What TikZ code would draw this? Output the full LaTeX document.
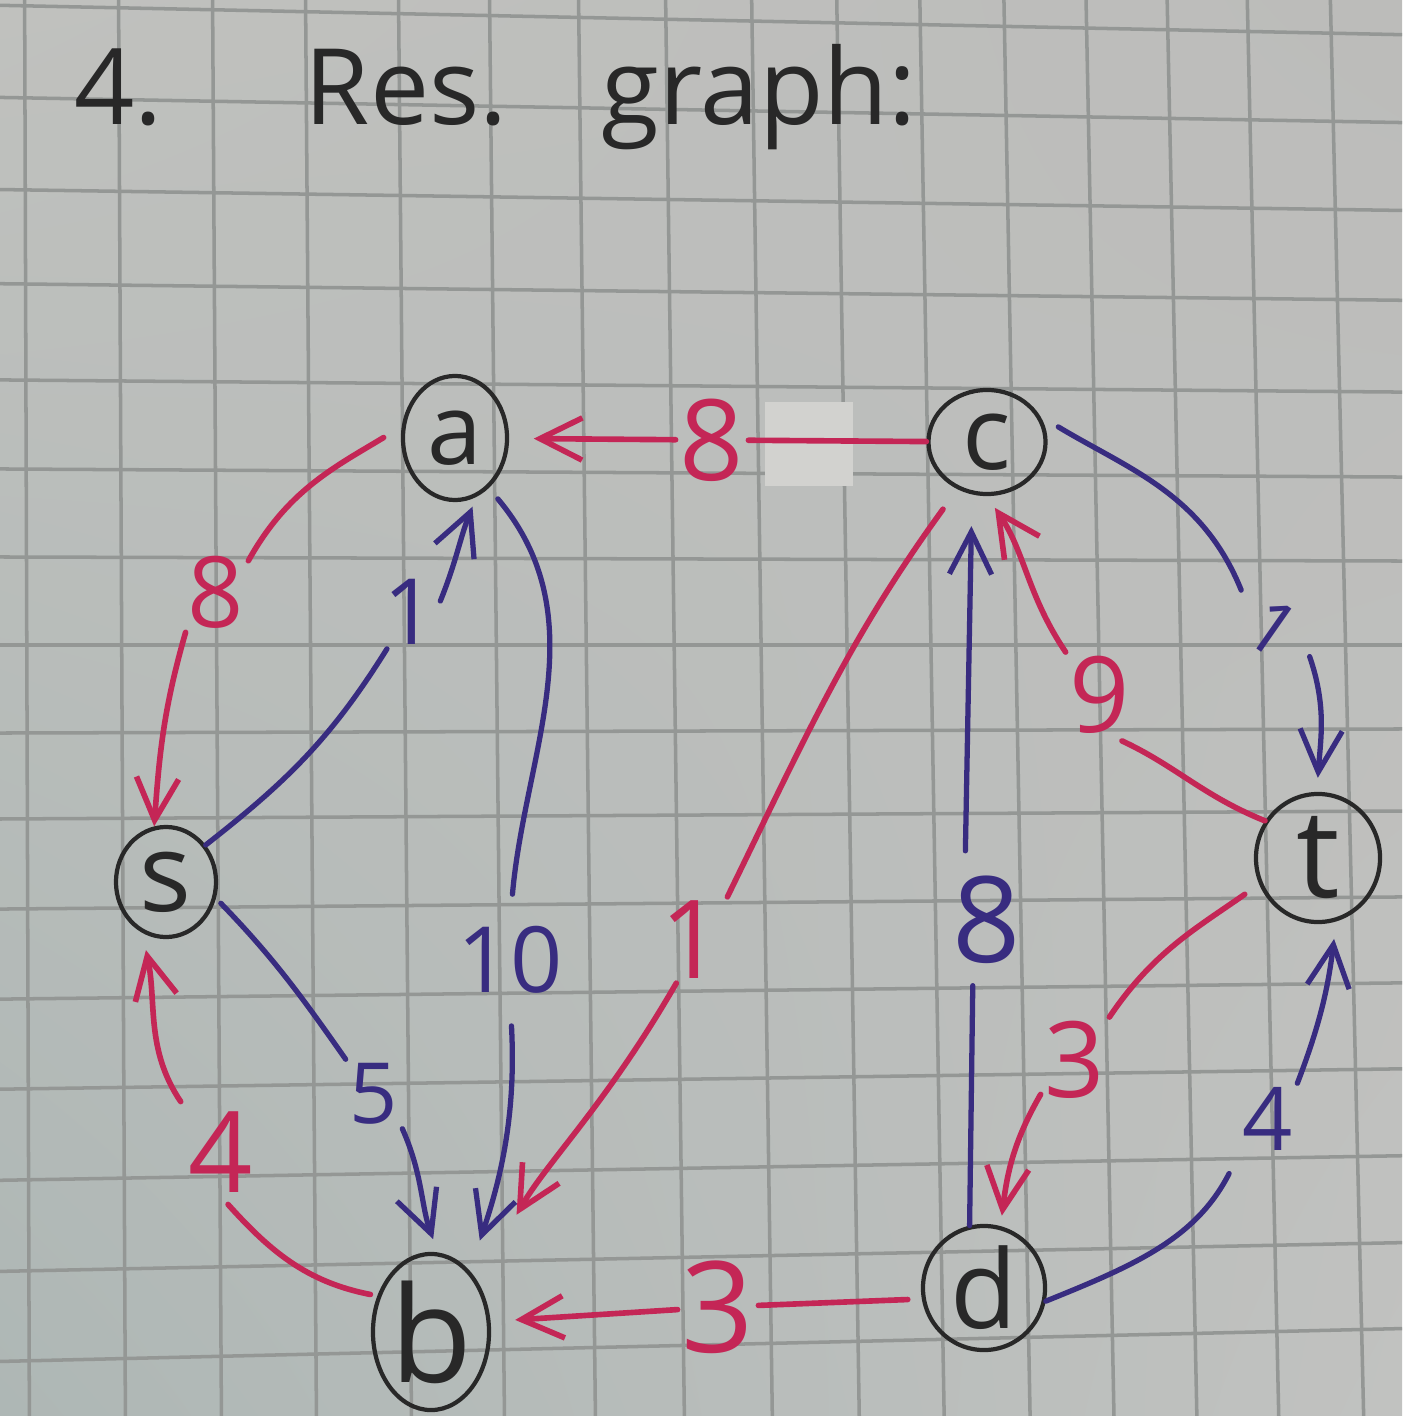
\documentclass[tikz,border=0pt]{standalone}
\usepackage{fontspec}
\usepackage{graphicx}
\setmainfont{Open Sans}
\usetikzlibrary{arrows.meta,shapes.geometric,shadings}
\definecolor{paperUL}{RGB}{192,193,190}
\definecolor{paperUR}{RGB}{188,188,186}
\definecolor{paperLL}{RGB}{174,183,181}
\definecolor{paperLR}{RGB}{193,194,192}
\definecolor{gridink}{RGB}{148,151,149}
\definecolor{tapecol}{RGB}{210,210,207}
\definecolor{redink}{RGB}{196,38,86}
\definecolor{blueink}{RGB}{56,44,128}
\definecolor{penink}{RGB}{40,40,40}
\begin{document}
\begin{tikzpicture}[x=0.01cm,y=0.01cm,
  vtx/.style={ellipse,draw=penink,line width=1.2pt,inner sep=0pt,text=penink},
  lab/.style={inner sep=1pt,font=\fontsize{30}{30}\selectfont},
  redlab/.style={lab,text=redink},
  bluelab/.style={lab,text=blueink},
  redline/.style={draw=redink,line width=1.6pt,line cap=round},
  blueline/.style={draw=blueink,line width=1.5pt,line cap=round},
  arrowend/.style={-{Straight Barb[length=12pt,width=12pt]}},
  gridline/.style={draw=gridink,line width=1pt}
]
% paper
\shade[upper left=paperUL,upper right=paperUR,lower left=paperLL,lower right=paperLR] (0,0) rectangle (1402,-1416);
\useasboundingbox (0,0) rectangle (1402,-1416);
% grid
\foreach \xm in {27,122,217,311,405,497,587,675,762,848,932,1017,1100,1182,1263,1347} {
  \pgfmathsetmacro{\slp}{0.006+0.000012*(\xm-200)}
  \pgfmathsetmacro{\xtp}{\xm-\slp*708}
  \pgfmathsetmacro{\xbt}{\xm+\slp*708}
  \draw[gridline] (\xtp,0) -- (\xbt,-1416);
}
\foreach \ym in {20,110,200,292,386,473,559,645,731,815,903,991,1079,1168,1257,1345} {
  \pgfmathsetmacro{\tlt}{-0.047*(\ym-645)}
  \pgfmathsetmacro{\ylf}{\ym-\tlt/2}
  \pgfmathsetmacro{\yrt}{\ym+\tlt/2}
  \draw[gridline] (0,{-\ylf}) -- (1402,{-\yrt});
}
% correction tape patch
\fill[tapecol] (765,-402) rectangle (853,-486);

% title
\node[anchor=base west,text=penink,font=\fontsize{30}{30}\selectfont] (title) at (62,-125) {4.\hspace{1.42cm}Res.\hspace{0.94cm}graph:};

% vertices (letters set in zero-width boxes so the drawn ellipses keep their sizes)
\node[vtx,minimum width=1.04cm,minimum height=1.24cm,font=\fontsize{28}{28}\selectfont] (a) at (455,-438) {\makebox[0pt]{a}};
\node[vtx,minimum width=1.17cm,minimum height=1.04cm,font=\fontsize{29}{29}\selectfont] (c) at (987,-442) {\makebox[0pt]{c}};
\node[vtx,minimum width=1.00cm,minimum height=1.10cm,font=\fontsize{31}{31}\selectfont] (s) at (166,-882) {\makebox[0pt]{s}};
\node[vtx,minimum width=1.24cm,minimum height=1.28cm,font=\fontsize{35}{35}\selectfont] (t) at (1318,-858) {\makebox[0pt]{t}};
\node[vtx,minimum width=1.16cm,minimum height=1.56cm,font=\fontsize{38}{38}\selectfont] (b) at (431,-1332) {\makebox[0pt]{b}};
\node[vtx,minimum width=1.22cm,minimum height=1.24cm,font=\fontsize{31}{31}\selectfont] (d) at (984,-1288) {\makebox[0pt]{d}};

% edge labels
\node[redlab,font=\fontsize{32}{32}\selectfont] (lca) at (712,-440) {8};
\node[redlab,font=\fontsize{28}{28}\selectfont] (las) at (216,-592) {8};
\node[bluelab,font=\fontsize{26}{26}\selectfont] (lsa) at (410,-612) {1};
\node[bluelab,font=\fontsize{26}{26}\selectfont] (lab10) at (510,-960) {10};
\node[bluelab,font=\fontsize{24}{24}\selectfont] (l5) at (374,-1094) {5};
\node[redlab,font=\fontsize{32}{32}\selectfont] (l4r) at (221,-1152) {4};
\node[redlab,font=\fontsize{31}{31}\selectfont] (l1cb) at (692,-940) {1};
\node[bluelab,font=\fontsize{34}{34}\selectfont] (l8dc) at (987,-920) {8};
\node[redlab,font=\fontsize{30}{30}\selectfont] (l9) at (1100,-695) {9};
\node[bluelab,font=\fontsize{21}{21}\selectfont] (l1ct) at (1273,-628) {\rotatebox{-35}{1}};
\node[redlab,font=\fontsize{30}{30}\selectfont] (l3td) at (1075,-1060) {3};
\node[bluelab,font=\fontsize{25}{25}\selectfont] (l4dt) at (1268,-1119) {4};
\node[redlab,font=\fontsize{36}{36}\selectfont] (l3db) at (718,-1307) {3};

% c -> a (8)
\draw[redline] (c) -- (lca);
\draw[redline,arrowend,shorten >=7pt] (lca) -- (a);
% a -> s (8)
\draw[redline,shorten <=6pt] (a.168) to[out=211,in=61] (las.44);
\draw[redline,arrowend] (las.-127) to[out=254,in=86] (s.102);
% s -> a (1)
\draw[blueline] (s.43) to[out=38,in=238] (lsa.238);
\draw[blueline,arrowend,shorten >=3pt] (lsa.20) to[out=68,in=248] (a.-70);
% a -> b (10)
\draw[blueline,shorten <=4pt,shorten >=8pt] (a.-56) to[out=-50,in=85] (lab10.north);
\draw[blueline,arrowend,shorten <=8pt,shorten >=9pt] (lab10.south) to[out=-87,in=71] (b.58);
% s -> b (5)
\draw[blueline,shorten <=2pt] (s.-18) to[out=-46,in=125] (l5.north west);
\draw[blueline,arrowend,shorten >=4pt] (l5.south east) to[out=-66,in=110] (b.85);
% b -> s (4)
\draw[redline,shorten <=2pt,shorten >=3pt] (b.146) to[out=169,in=-48] (l4r.south);
\draw[redline,arrowend,shorten <=2pt,shorten >=5pt] (l4r.north west) to[out=124,in=-78] (s.-115);
% c -> b (1)
\draw[redline,shorten <=7pt] (c.-122) to[out=234,in=64] (l1cb.north east);
\draw[redline,arrowend,shorten >=22pt] (l1cb.-110) to[out=240,in=60] (b.47);
% d -> c (8)
\draw[blueline,shorten >=5pt] (d.103) -- ([xshift=-0.14cm]l8dc.south);
\draw[blueline,arrowend,shorten <=6pt,shorten >=9pt] ([xshift=-0.22cm]l8dc.north) -- (c.-106);
% t -> c (9)
\draw[redline,shorten >=2pt] (t.145) to[out=158,in=-25] (l9.-70);
\draw[redline,arrowend,shorten >=4pt] (l9.north west) to[out=124,in=-56] (c.-90);
% c -> t (1)
\draw[blueline,shorten <=6pt] (c.26) to[out=-31,in=112] (l1ct.130);
\draw[blueline,arrowend,shorten >=4pt] (l1ct.-38) to[out=-71,in=86] (t.91);
% t -> d (3)
\draw[redline,shorten <=5pt] (t.204) to[out=215,in=56] (l3td.north east);
\draw[redline,arrowend,shorten >=3pt] (l3td.-135) to[out=240,in=83] (d.75);
% d -> t (4)
\draw[blueline,shorten >=6pt] (d.-12) to[out=22,in=243] (l4dt.south west);
\draw[blueline,arrowend,shorten >=5pt] (l4dt.north east) to[out=69,in=-97] (t.-74);
% d -> b (3)
\draw[redline,shorten <=4pt] (d.190) -- (l3db);
\draw[redline,arrowend,shorten >=7pt] (l3db) -- (b.10);
\end{tikzpicture}
\end{document}
